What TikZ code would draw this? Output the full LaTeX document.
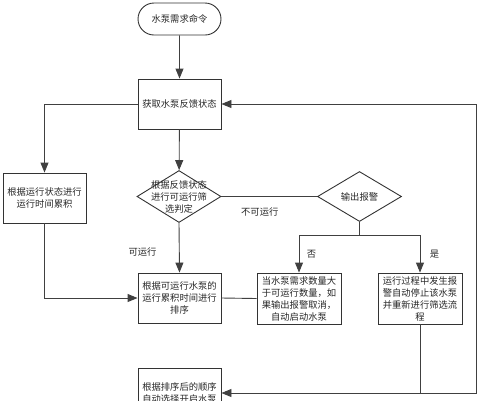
\documentclass[tikz,border=0pt]{standalone}
\usepackage{fontspec}
\newfontfamily\cjk{Noto Sans CJK SC}
\usetikzlibrary{shapes, arrows.meta, positioning, calc}

\begin{document}
\begin{tikzpicture}[x=1pt,y=-1pt,
    box/.style={draw=black!80,line width=0.9pt,minimum width=83pt,minimum height=50pt,inner sep=1pt,align=center,text=black!85,font=\cjk\fontsize{9.3}{12}\selectfont},
    dec/.style={draw=black!80,line width=0.9pt,shape=diamond,inner sep=0pt,minimum width=84pt,minimum height=52pt},
    txt/.style={font=\cjk\fontsize{9.3}{12}\selectfont,text=black!85,align=center},
    arr/.style={draw=black!75,line width=0.9pt,-{Triangle[length=10pt,width=8pt]}},
    ln/.style={draw=black!75,line width=0.9pt}]
  \useasboundingbox (0,0) rectangle (479,400);

  \node[box,rounded rectangle,minimum width=85pt,minimum height=32pt] (cmd) at (179.5,19) {水泵需求命令};
  \node[box] (get) at (179.5,104) {获取水泵反馈状态};
  \node[dec] (judge) at (179,196.5) {};
  \node[txt] (judgetxt) at (judge) {根据反馈状态\\进行可运行筛\\选判定};
  \node[dec,minimum height=50pt] (alarm) at (359.5,196.5) {};
  \node[txt] (alarmtxt) at (alarm) {输出报警};
  \node[box] (acc) at (44.5,198) {根据运行状态进行\\运行时间累积};
  \node[box] (sort) at (179.5,298) {根据可运行水泵的\\运行累积时间进行\\排序};
  \node[box,minimum width=84pt,minimum height=51pt] (nobox) at (299,298.5)
    {当水泵需求数量大\\于可运行数量，如\\果输出报警取消，\\自动启动水泵};
  \node[box,minimum width=84pt,minimum height=51pt] (yesbox) at (420,298.5)
    {运行过程中发生报\\警自动停止该水泵\\并重新进行筛选流\\程};
  \node[box] (final) at (179.5,393) {根据排序后的顺序\\自动选择开启水泵};

  \coordinate (split) at (359.5,235);
  \coordinate (corner) at (476,393);

  \draw[arr] (cmd) -- (get);
  \draw[arr] (get) -- (judge);
  \draw[arr] (get.west) -| (acc.north);
  \draw[arr] (acc.south) |- (sort.west);
  \draw[arr] (judge.south) -- node[txt,left,xshift=-19pt,yshift=-4pt] (lrun) {可运行} (sort.north);
  \draw[ln] (judge.east) -- node[txt,below,xshift=-9.5pt,yshift=-7pt] (lnorun) {不可运行} (alarm.west);
  \draw[ln] (alarm.south) -- (split);
  \draw[arr] (split) -| node[txt,pos=0.75,right,xshift=4pt] (lno) {否} (nobox.north);
  \draw[arr] (split) -| node[txt,pos=0.75,right,xshift=6pt] (lyes) {是} (yesbox.north);
  \draw[ln] (sort.east) -- (nobox.west);
  \draw[arr] (yesbox.south) |- (final.east);
  \draw[arr] (final.east -| yesbox.south) -- (corner) |- (get.east);
\end{tikzpicture}
\end{document}
